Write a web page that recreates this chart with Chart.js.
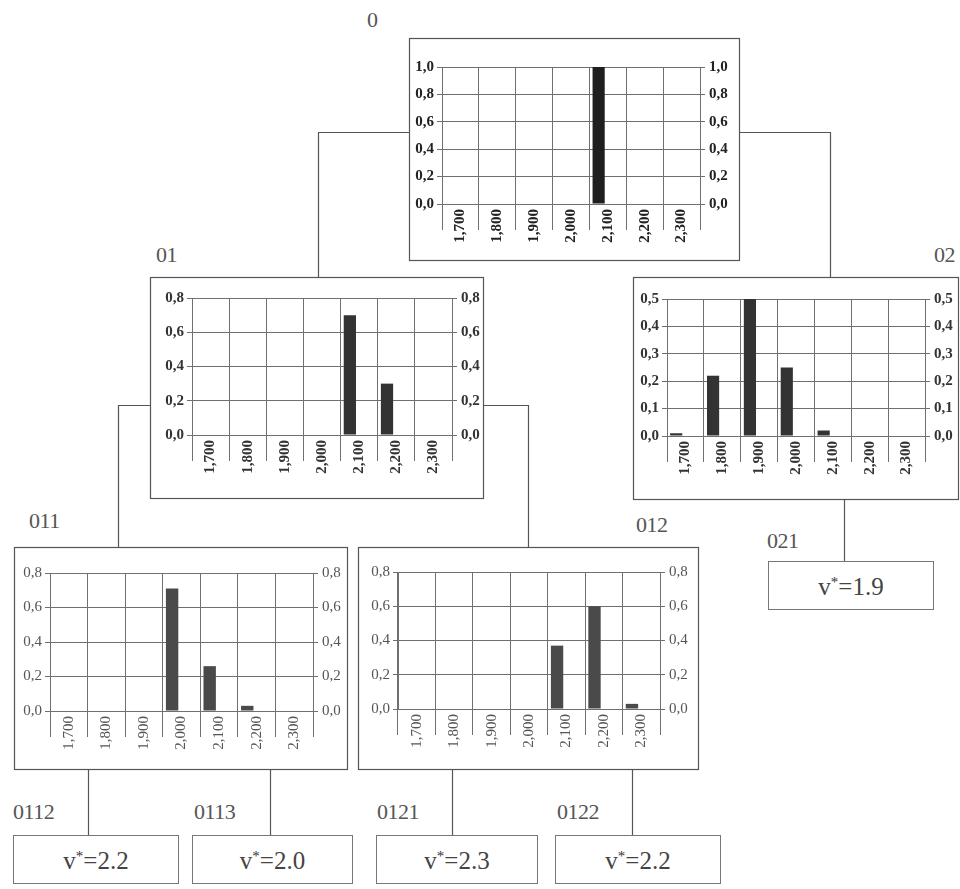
<!DOCTYPE html>
<html>
<head>
<meta charset="utf-8">
<script src="https://cdn.jsdelivr.net/npm/chart.js@4.4.1/dist/chart.umd.min.js"></script>
<style>
  body { margin: 0; background: #fff; }
  #tree { position: relative; width: 960px; height: 889px; overflow: hidden; }
  #tree svg { position: absolute; left: 0; top: 0; }
  #tree canvas { position: absolute; }
  .node { position: absolute; font-family: "Liberation Serif", "Times New Roman", serif; font-size: 22px; line-height: 1; color: #555; letter-spacing: -0.5px; }
  .leaf { position: absolute; border: 1px solid #777; box-sizing: border-box; font-family: "Liberation Serif", "Times New Roman", serif; font-size: 25px; color: #444; text-align: center; }
  .leaf sup { font-size: 15px; position: relative; top: -4px; vertical-align: top; color: #333; }
</style>
</head>
<body>
<div id="tree">
  <svg width="960" height="889" fill="none" stroke="#555" stroke-width="1.2">
    <!-- chart frames -->
    <rect x="409.5" y="38.5" width="330" height="222"/>
    <rect x="150.5" y="277.5" width="333" height="221"/>
    <rect x="633.5" y="277.5" width="325" height="222"/>
    <rect x="14.5" y="547.5" width="333" height="222"/>
    <rect x="358.5" y="547.5" width="340" height="222"/>
    <!-- branches -->
    <polyline points="409,132.5 318.5,132.5 318.5,277"/>
    <polyline points="739,132.5 830.5,132.5 830.5,277"/>
    <polyline points="150,405.5 118.5,405.5 118.5,547"/>
    <polyline points="483,405.5 528.5,405.5 528.5,547"/>
    <line x1="844.5" y1="499" x2="844.5" y2="561"/>
    <line x1="88.5" y1="769" x2="88.5" y2="835"/>
    <line x1="270.5" y1="769" x2="270.5" y2="835"/>
    <line x1="452.5" y1="769" x2="452.5" y2="835"/>
    <line x1="632.5" y1="769" x2="632.5" y2="835"/>
  </svg>

  <canvas id="c0" width="330" height="222" style="left:409px;top:38px"></canvas>
  <canvas id="c01" width="333" height="221" style="left:150px;top:277px"></canvas>
  <canvas id="c02" width="325" height="222" style="left:633px;top:277px"></canvas>
  <canvas id="c011" width="333" height="222" style="left:14px;top:547px"></canvas>
  <canvas id="c012" width="340" height="222" style="left:358px;top:547px"></canvas>

  <div class="node" style="left:367px;top:9px">0</div>
  <div class="node" style="left:156px;top:244px">01</div>
  <div class="node" style="left:934px;top:244px">02</div>
  <div class="node" style="left:29px;top:510px">011</div>
  <div class="node" style="left:636px;top:514px">012</div>
  <div class="node" style="left:767px;top:530px">021</div>
  <div class="node" style="left:13px;top:801px">0112</div>
  <div class="node" style="left:194px;top:801px">0113</div>
  <div class="node" style="left:377px;top:801px">0121</div>
  <div class="node" style="left:557px;top:801px">0122</div>

  <div class="leaf" style="left:768px;top:561px;width:166px;height:49px;line-height:49px">v<sup>*</sup>=1.9</div>
  <div class="leaf" style="left:13px;top:835px;width:166px;height:49px;line-height:49px">v<sup>*</sup>=2.2</div>
  <div class="leaf" style="left:192px;top:835px;width:161px;height:49px;line-height:49px">v<sup>*</sup>=2.0</div>
  <div class="leaf" style="left:376px;top:835px;width:162px;height:49px;line-height:49px">v<sup>*</sup>=2.3</div>
  <div class="leaf" style="left:555px;top:835px;width:166px;height:49px;line-height:49px">v<sup>*</sup>=2.2</div>
</div>

<script>
// price levels on the x axis of every node
const categories = ["1,700", "1,800", "1,900", "2,000", "2,100", "2,200", "2,300"];

// probability of each price level, per tree node
const node0 = [0, 0, 0, 0, 1.0, 0, 0];
const node01 = [0, 0, 0, 0, 0.70, 0.30, 0];
const node02 = [0.01, 0.22, 0.50, 0.25, 0.02, 0, 0];
const node011 = [0, 0, 0, 0.71, 0.26, 0.03, 0];
const node012 = [0, 0, 0, 0, 0.37, 0.60, 0.03];

// y axis range per node: [max, step]
const range0 = [1.0, 0.2];
const range01 = [0.8, 0.2];
const range02 = [0.5, 0.1];
const range011 = [0.8, 0.2];
const range012 = [0.8, 0.2];

const gridColor = "#707070";
const serif = "'Liberation Serif', 'Times New Roman', serif";
const fmt = v => v.toFixed(1).replace(".", ",");

function drawNode(id, values, range, m, look) {
  const yTicks = {
    stepSize: range[1], callback: fmt, color: look.text, padding: 3,
    font: { family: serif, size: look.ySize, weight: look.weight }
  };
  new Chart(document.getElementById(id), {
    type: "bar",
    data: {
      labels: categories,
      datasets: [
        { data: values, backgroundColor: look.bar, barPercentage: 0.66, categoryPercentage: 1 },
        // second (empty) series keeps the bars on the left half of each slot
        { data: [], backgroundColor: look.bar, barPercentage: 0.66, categoryPercentage: 1 }
      ]
    },
    options: {
      responsive: false,
      animation: false,
      events: [],
      layout: { padding: { top: m[2], left: 0, right: 0, bottom: 0 } },
      plugins: { legend: { display: false }, tooltip: { enabled: false } },
      scales: {
        x: {
          grid: { offset: true, color: gridColor, tickLength: 26, tickColor: gridColor },
          border: { color: gridColor },
          ticks: {
            minRotation: 90, maxRotation: 90, autoSkip: false, padding: -21, color: look.text,
            font: { family: serif, size: look.xSize, weight: look.weight }
          },
          afterFit: s => { s.height = m[3]; }
        },
        y: {
          position: "left", min: 0, max: range[0],
          ticks: yTicks,
          grid: { color: gridColor, tickLength: 5 },
          border: { color: gridColor },
          afterFit: s => { s.width = m[0]; }
        },
        y2: {
          position: "right", min: 0, max: range[0],
          ticks: Object.assign({}, yTicks, { padding: 4 }),
          grid: { drawOnChartArea: false, color: gridColor, tickLength: 5 },
          border: { color: gridColor },
          afterFit: s => { s.width = m[1]; }
        }
      }
    }
  });
}

// margins: [left, right, top, bottom] between frame and plot area
const dark = { bar: "#1f1f1f", text: "#222", ySize: 15, xSize: 15, weight: "bold" };
const mid = { bar: "#333", text: "#333", ySize: 15, xSize: 15, weight: "bold" };
const pale = { bar: "#4a4a4a", text: "#555", ySize: 15, xSize: 15, weight: "normal" };

drawNode("c0", node0, range0, [33, 39, 29, 56], dark);
drawNode("c01", node01, range01, [42, 31, 21, 63], mid);
drawNode("c02", node02, range02, [34, 33, 22, 63], mid);
drawNode("c011", node011, range011, [36, 34, 26, 58], pale);
drawNode("c012", node012, range012, [40, 38, 25, 60], pale);
</script>
</body>
</html>
